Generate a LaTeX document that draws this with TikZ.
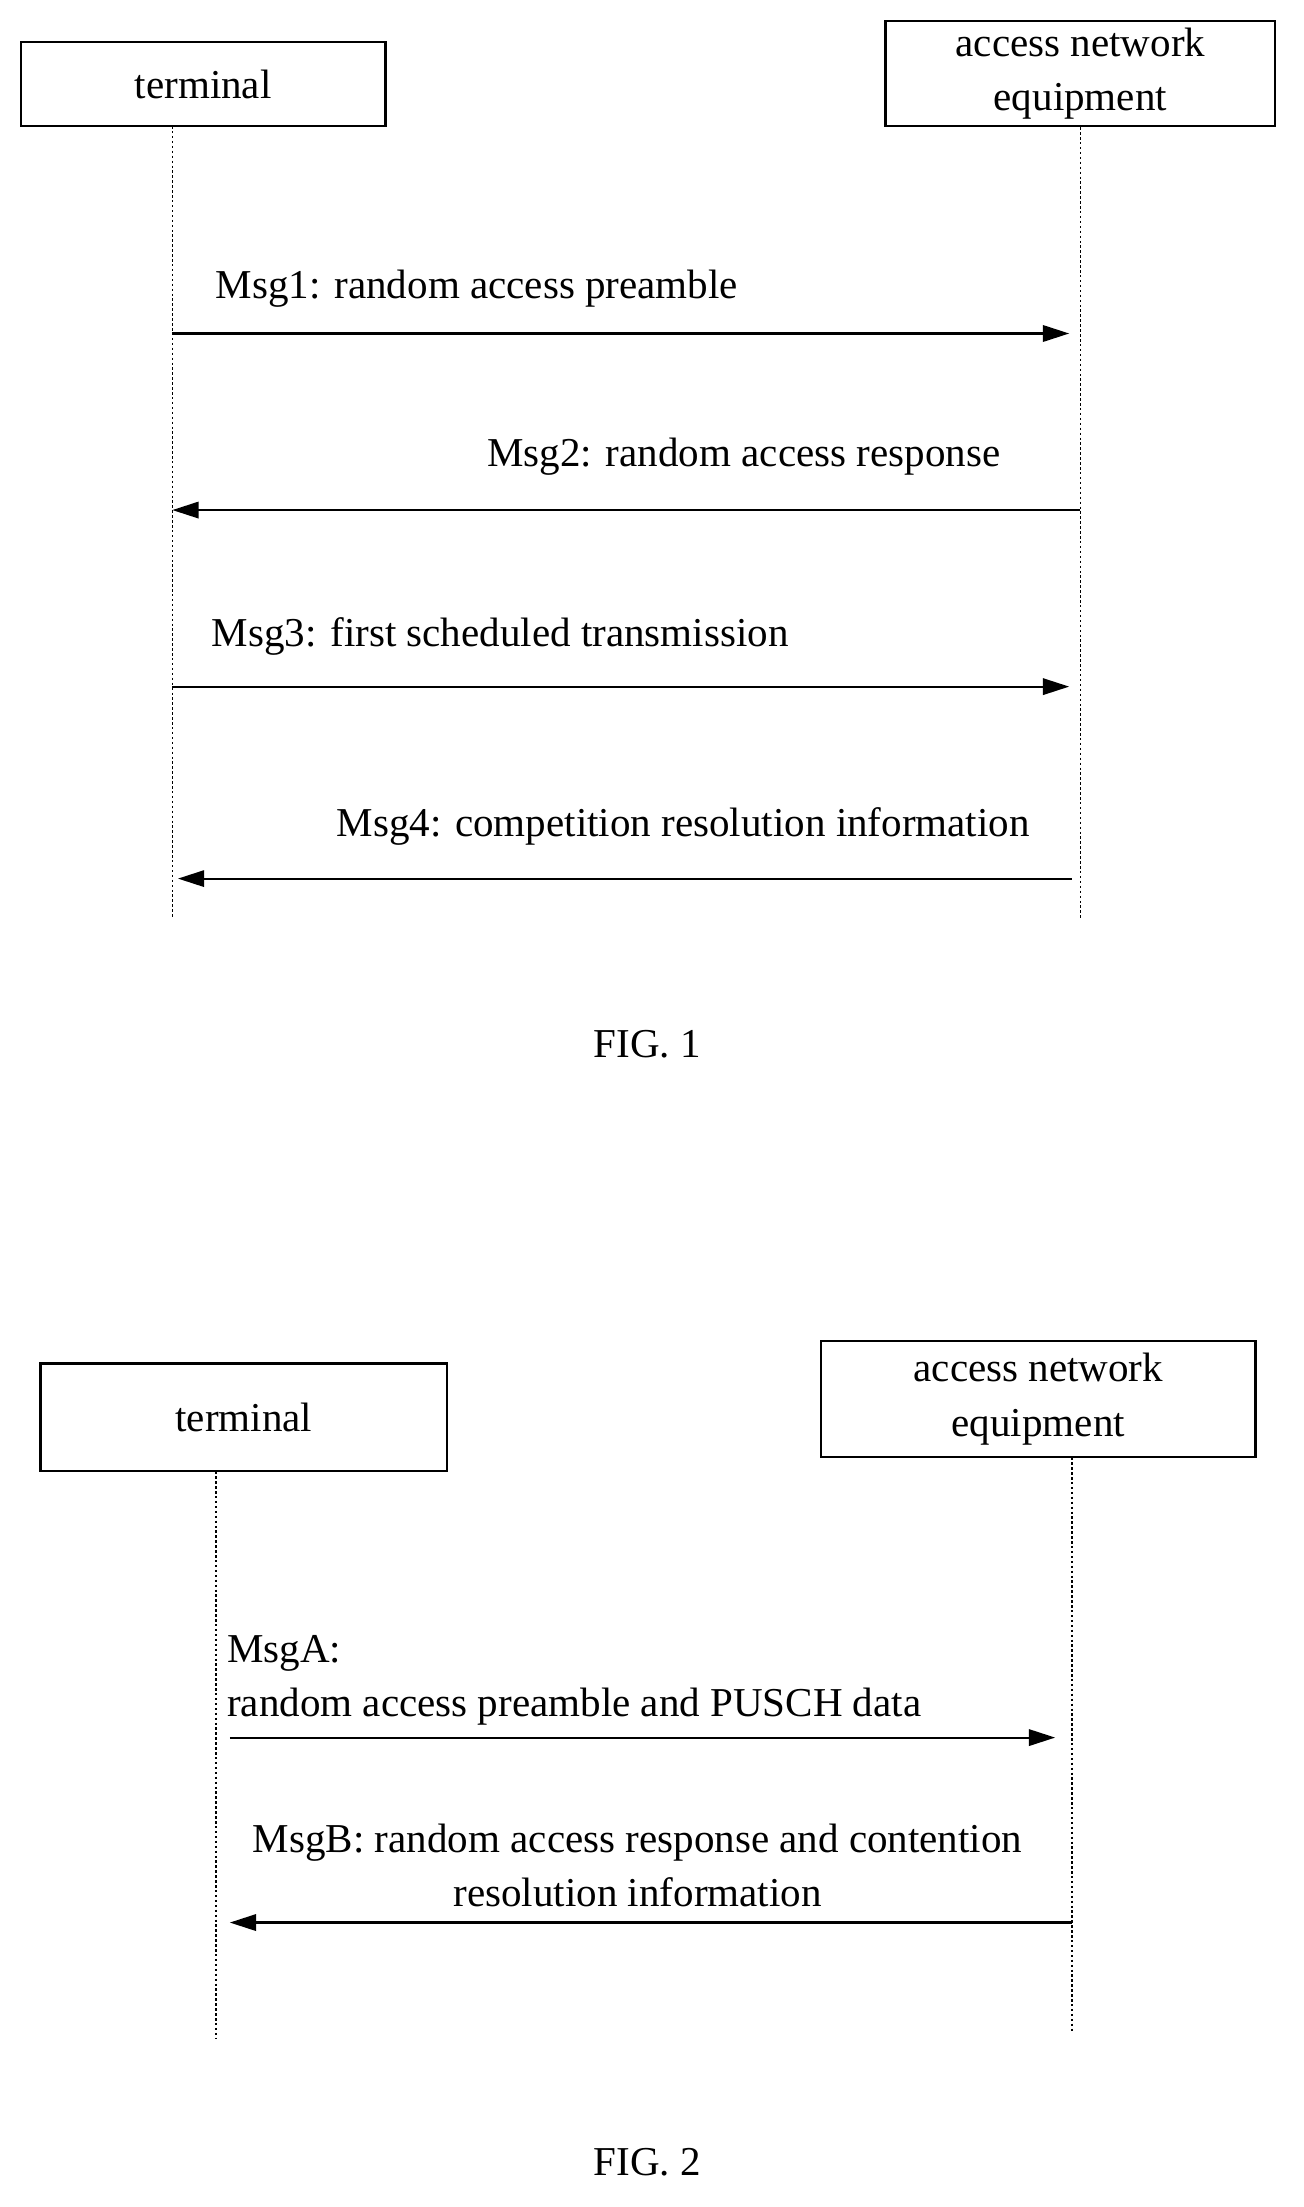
\documentclass[tikz,border=0pt]{standalone}
\usepackage{fontspec}
\setmainfont{Liberation Serif}
\usepackage{tikz}
\usetikzlibrary{arrows.meta}
\begin{document}
\begin{tikzpicture}[x=0.03cm,y=-0.03cm,
    every node/.style={font=\fontsize{25}{33}\selectfont},
    box/.style={draw,line width=1.4pt,inner sep=0pt},
    life/.style={line width=0.9pt,dash pattern=on 1.5pt off 1.5pt},
    msg/.style={line width=1.3pt,-{Triangle[length=16pt,width=10pt]}}]
    \useasboundingbox (0,0) rectangle (930,1575);
    % FIG. 1
    \node[box,minimum width=260*0.03cm,minimum height=60*0.03cm] (term) at (145,60) {terminal};
    \node[box,minimum width=278*0.03cm,minimum height=75*0.03cm,align=center] (ane) at (771,52.5) {access network\\equipment};
    \coordinate (t0) at (123,655);
    \coordinate (a0) at (771,655);
    \draw[life] (123,90) -- (t0);
    \draw[life] (ane.south) -- (a0);
    \coordinate (m1s) at (123,238); \coordinate (m1e) at (763,238);
    \coordinate (m2s) at (771,364); \coordinate (m2e) at (123,364);
    \coordinate (m3s) at (123,490); \coordinate (m3e) at (763,490);
    \coordinate (m4s) at (765,627); \coordinate (m4e) at (127,627);
    \draw[msg] (m1s) -- (m1e);
    \draw[msg] (m2s) -- (m2e);
    \draw[msg] (m3s) -- (m3e);
    \draw[msg] (m4s) -- (m4e);
    \node[anchor=west] (l1) at (150,206) {Msg1: random access preamble};
    \node[anchor=east] (l2) at (718,326) {Msg2: random access response};
    \node[anchor=west] (l3) at (147,454) {Msg3: first scheduled transmission};
    \node[anchor=east] (l4) at (739,590) {Msg4: competition resolution information};
    \node (fig1) at (462,745) {FIG. 1};
    % FIG. 2
    \node[box,minimum width=290*0.03cm,minimum height=77*0.03cm] (term2) at (174,1011.5) {terminal};
    \node[box,minimum width=310*0.03cm,minimum height=83*0.03cm,align=center] (ane2) at (741,998.5) {access network\\equipment};
    \coordinate (t1) at (154,1455);
    \coordinate (a1) at (765,1450);
    \draw[life] (154,1050) -- (t1);
    \draw[life] (765,1040) -- (a1);
    \coordinate (mAs) at (164,1240); \coordinate (mAe) at (753,1240);
    \coordinate (mBs) at (765,1372); \coordinate (mBe) at (164,1372);
    \draw[msg] (mAs) -- (mAe);
    \draw[msg] (mBs) -- (mBe);
    \node[anchor=west,align=left] (lA) at (158,1199) {MsgA:\\random access preamble and PUSCH data};
    \node[align=center] (lB) at (455,1331) {MsgB: random access response and contention\\resolution information};
    \node (fig2) at (462,1543) {FIG. 2};
\end{tikzpicture}
\end{document}
